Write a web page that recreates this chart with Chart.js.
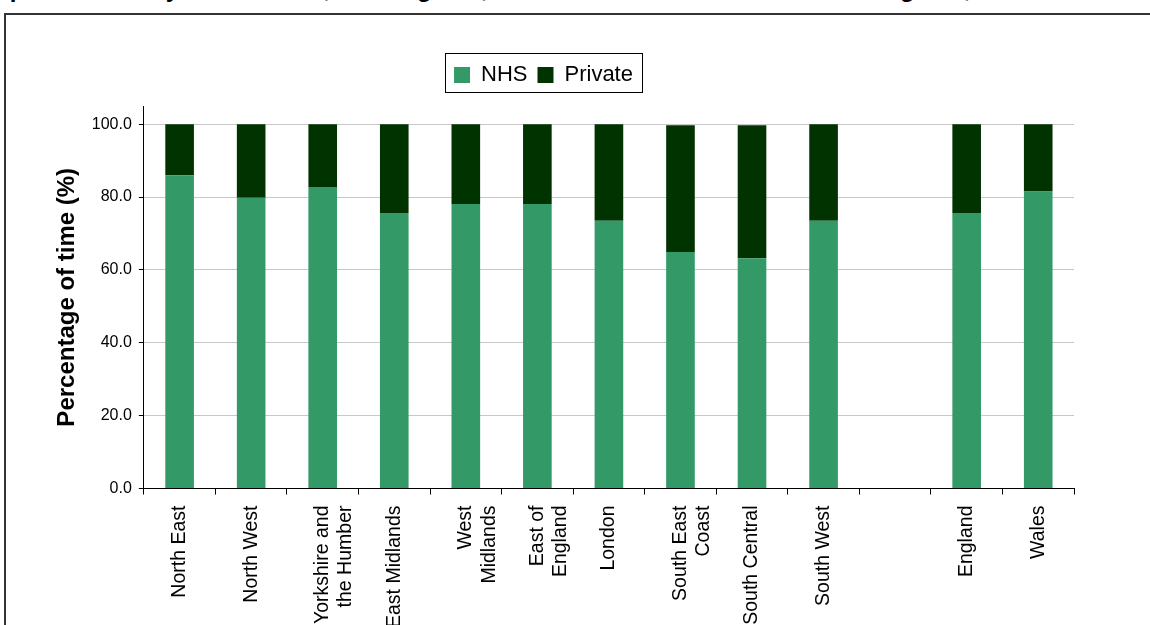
<!DOCTYPE html>
<html>
<head>
<meta charset="utf-8">
<script src="https://cdn.jsdelivr.net/npm/chart.js@4"></script>
<style>
  html, body { margin: 0; padding: 0; background: #fff; overflow: hidden; width: 1150px; height: 625px; }
  #title { position: absolute; left: -205px; top: -23px; white-space: nowrap; font: bold 24px "Liberation Sans", Arial, sans-serif; line-height: 24px; color: #000; }
  #frame { position: absolute; left: 4px; top: 13px; width: 1200px; height: 700px; border: 2px solid #333; box-sizing: border-box; }
  #wrap { position: absolute; left: 6px; top: 15px; width: 1144px; height: 624px; }
</style>
</head>
<body>
<div id="title">Figure 3: NHS and private time by SHA in 2010, and England, and the total for all of Wales and England, 2010</div>
<div id="frame"></div>
<div id="wrap"><canvas id="chart"></canvas></div>
<script>
document.addEventListener('DOMContentLoaded', function() {
    // regiones (la categoria vacia deja el hueco antes de England)
    const categories = [
        'North East', 'North West', ['Yorkshire and', 'the Humber'], 'East Midlands',
        ['West', 'Midlands'], ['East of', 'England'], 'London', ['South East', 'Coast'],
        'South Central', 'South West', '', 'England', 'Wales'
    ];
    const nhsValues = [86.0, 79.8, 82.8, 75.6, 78.1, 78.1, 73.5, 64.9, 63.2, 73.5, null, 75.6, 81.5];
    const privateValues = [14.0, 20.2, 17.2, 24.4, 21.9, 21.9, 26.5, 34.8, 36.5, 26.5, null, 24.4, 18.5];
    const yTicks = [0, 20, 40, 60, 80, 100];

    const font = '"Liberation Sans", Arial, sans-serif';

    // borde alrededor de la leyenda, un poco corrida a la izquierda y con espacio debajo
    const legendFrame = {
        id: 'legendFrame',
        beforeInit(chart) {
            const lg = chart.legend;
            const origFit = lg.fit;
            lg.fit = function() {
                origFit.call(this);
                this.height += 10;
            };
        },
        afterUpdate(chart) {
            const lg = chart.legend;
            const shift = -20;
            lg.left += shift;
            lg.right += shift;
            lg.legendHitBoxes.forEach(h => { h.left += shift; });
        },
        afterDraw(chart) {
            const boxes = chart.legend.legendHitBoxes;
            if (!boxes.length) return;
            const first = boxes[0];
            const last = boxes[boxes.length - 1];
            const ctx = chart.ctx;
            const x1 = Math.round(first.left - 9) + 0.5;
            const x2 = Math.round(last.left + last.width + 9) + 0.5;
            const y1 = Math.round(first.top - 11) + 0.5;
            const y2 = Math.round(first.top + first.height + 6) + 0.5;
            ctx.save();
            ctx.strokeStyle = '#000';
            ctx.lineWidth = 1;
            ctx.strokeRect(x1, y1, x2 - x1, y2 - y1);
            ctx.restore();
        }
    };

    const ctx = document.getElementById('chart').getContext('2d');

    new Chart(ctx, {
        type: 'bar',
        data: {
            labels: categories,
            datasets: [{
                label: 'NHS',
                data: nhsValues,
                backgroundColor: '#339966',
                barPercentage: 0.4,
                categoryPercentage: 1.0
            }, {
                label: 'Private',
                data: privateValues,
                backgroundColor: '#003300',
                barPercentage: 0.4,
                categoryPercentage: 1.0
            }]
        },
        options: {
            responsive: true,
            maintainAspectRatio: false,
            animation: false,
            layout: {
                padding: { top: 39, left: 47, right: 76, bottom: 0 }
            },
            plugins: {
                legend: {
                    position: 'top',
                    labels: {
                        boxWidth: 16,
                        boxHeight: 16,
                        padding: 10,
                        color: '#000',
                        font: { family: font, size: 22 }
                    }
                },
                tooltip: { enabled: false }
            },
            scales: {
                x: {
                    stacked: true,
                    grid: {
                        display: true,
                        drawOnChartArea: false,
                        drawTicks: true,
                        tickLength: 6,
                        color: '#000',
                        offset: true
                    },
                    border: { display: true, color: '#000' },
                    ticks: {
                        autoSkip: false,
                        minRotation: 90,
                        maxRotation: 90,
                        padding: 11,
                        color: '#000',
                        font: { family: font, size: 19.5 }
                    }
                },
                y: {
                    stacked: true,
                    min: 0,
                    max: 105,
                    afterBuildTicks(axis) {
                        axis.ticks = yTicks.map(v => ({ value: v }));
                    },
                    grid: {
                        color: '#c8c8c8',
                        tickColor: '#000',
                        tickLength: 5
                    },
                    border: { display: true, color: '#000' },
                    ticks: {
                        padding: 7,
                        color: '#000',
                        font: { family: font, size: 16 },
                        callback: v => v.toFixed(1)
                    },
                    title: {
                        display: true,
                        text: 'Percentage of time (%)',
                        color: '#000',
                        font: { family: font, size: 24, weight: 'bold' },
                        padding: { top: 0, bottom: 3 }
                    }
                }
            }
        },
        plugins: [legendFrame]
    });
});
</script>
</body>
</html>
